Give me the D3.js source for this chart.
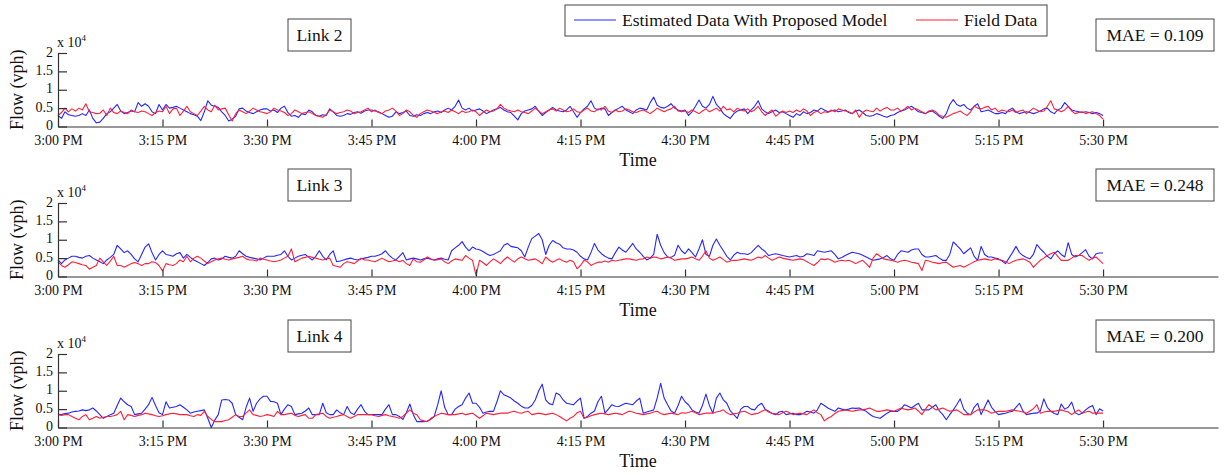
<!DOCTYPE html>
<html>
<head>
<meta charset="utf-8">
<script src="https://cdn.jsdelivr.net/npm/d3@7"></script>
<style>
  body { margin: 0; background: #fff; }
  svg text { font-family: "Liberation Serif", "Times New Roman", serif; fill: #111; }
</style>
</head>
<body>
<svg id="chart" width="1232" height="475"></svg>
<script>
// ---- data -------------------------------------------------------------
const linkNames = ["Link 2", "Link 3", "Link 4"];
const maeValues = [0.109, 0.248, 0.200];
const seriesNames = ["Estimated Data With Proposed Model", "Field Data"];
const timeTickLabels = ["3:00 PM", "3:15 PM", "3:30 PM", "3:45 PM", "4:00 PM", "4:15 PM",
                        "4:30 PM", "4:45 PM", "5:00 PM", "5:15 PM", "5:30 PM"];
const flowTickValues = [0, 0.5, 1, 1.5, 2];
const flowTickLabels = ["0", "0.5", "1", "1.5", "2"];
const sampleSeconds = 30;           // one reading every 30 s from 3:00 PM

// flows in units of 10^4 vph, one row per 15 minutes
const link2Estimated = [
  0.30,0.22,0.40,0.32,0.30,0.28,0.30,0.35,0.30,0.45,0.22,0.10,0.12,0.22,0.35,0.40,0.50,0.60,0.42,0.35,0.38,0.42,0.40,0.65,0.55,0.62,0.55,0.40,0.35,0.60,
  0.45,0.60,0.50,0.52,0.55,0.50,0.45,0.40,0.35,0.32,0.28,0.16,0.40,0.70,0.58,0.55,0.52,0.40,0.30,0.15,0.20,0.28,0.48,0.50,0.42,0.38,0.35,0.40,0.45,0.48,
  0.48,0.42,0.45,0.38,0.50,0.55,0.38,0.28,0.30,0.25,0.35,0.32,0.45,0.40,0.30,0.28,0.32,0.30,0.48,0.40,0.30,0.28,0.30,0.35,0.33,0.38,0.40,0.36,0.42,0.45,
  0.45,0.42,0.40,0.35,0.30,0.25,0.28,0.40,0.35,0.38,0.42,0.30,0.28,0.32,0.30,0.35,0.38,0.35,0.40,0.42,0.38,0.45,0.50,0.45,0.55,0.72,0.50,0.45,0.50,0.42,
  0.45,0.48,0.42,0.35,0.40,0.45,0.48,0.52,0.45,0.40,0.38,0.28,0.18,0.35,0.42,0.45,0.48,0.55,0.42,0.30,0.38,0.45,0.52,0.45,0.42,0.40,0.45,0.55,0.40,0.25,
  0.38,0.48,0.55,0.70,0.50,0.45,0.50,0.48,0.30,0.38,0.45,0.50,0.55,0.45,0.40,0.35,0.45,0.50,0.48,0.45,0.65,0.80,0.58,0.52,0.50,0.55,0.62,0.50,0.45,0.42,
  0.45,0.30,0.40,0.55,0.72,0.55,0.50,0.60,0.82,0.60,0.50,0.35,0.28,0.22,0.35,0.42,0.45,0.48,0.35,0.45,0.55,0.70,0.48,0.40,0.35,0.40,0.45,0.38,0.40,0.35,
  0.30,0.25,0.35,0.30,0.40,0.35,0.38,0.45,0.42,0.50,0.45,0.40,0.42,0.45,0.40,0.42,0.45,0.38,0.35,0.42,0.45,0.38,0.30,0.28,0.30,0.35,0.32,0.28,0.25,0.30,
  0.32,0.38,0.42,0.45,0.50,0.55,0.48,0.40,0.38,0.35,0.40,0.42,0.35,0.28,0.22,0.35,0.60,0.73,0.60,0.55,0.60,0.50,0.45,0.55,0.62,0.40,0.42,0.45,0.40,0.35,
  0.35,0.38,0.35,0.45,0.50,0.40,0.35,0.38,0.40,0.38,0.35,0.38,0.42,0.48,0.50,0.40,0.35,0.45,0.50,0.65,0.55,0.45,0.42,0.40,0.38,0.40,0.38,0.35,0.38,0.35,
  0.30
];
const link2Field = [
  0.30,0.38,0.50,0.40,0.48,0.42,0.50,0.45,0.62,0.40,0.38,0.35,0.36,0.45,0.30,0.50,0.38,0.35,0.42,0.38,0.35,0.45,0.40,0.38,0.42,0.40,0.35,0.30,0.38,0.42,
  0.40,0.55,0.35,0.48,0.50,0.30,0.42,0.55,0.40,0.35,0.30,0.42,0.55,0.45,0.40,0.58,0.45,0.48,0.50,0.32,0.15,0.35,0.45,0.40,0.35,0.42,0.50,0.45,0.40,0.38,
  0.35,0.40,0.50,0.45,0.42,0.38,0.30,0.35,0.45,0.40,0.35,0.38,0.40,0.35,0.30,0.28,0.25,0.32,0.45,0.40,0.35,0.38,0.40,0.45,0.42,0.35,0.38,0.40,0.45,0.50,
  0.40,0.45,0.38,0.35,0.42,0.45,0.50,0.42,0.30,0.35,0.45,0.40,0.30,0.25,0.35,0.40,0.45,0.42,0.38,0.35,0.40,0.42,0.38,0.45,0.40,0.35,0.42,0.38,0.40,0.45,
  0.40,0.30,0.38,0.45,0.40,0.42,0.48,0.60,0.50,0.45,0.42,0.40,0.45,0.40,0.38,0.35,0.42,0.50,0.42,0.35,0.40,0.45,0.48,0.42,0.50,0.45,0.40,0.42,0.48,0.40,
  0.38,0.45,0.50,0.42,0.40,0.48,0.45,0.55,0.42,0.38,0.45,0.40,0.42,0.48,0.45,0.40,0.38,0.42,0.45,0.40,0.35,0.42,0.50,0.45,0.40,0.45,0.48,0.55,0.42,0.40,
  0.42,0.38,0.45,0.40,0.35,0.42,0.48,0.40,0.45,0.50,0.42,0.55,0.45,0.48,0.40,0.50,0.45,0.42,0.48,0.40,0.45,0.55,0.40,0.30,0.38,0.45,0.28,0.35,0.42,0.38,
  0.42,0.38,0.45,0.40,0.48,0.42,0.30,0.38,0.42,0.35,0.40,0.38,0.45,0.40,0.48,0.45,0.42,0.40,0.35,0.45,0.25,0.38,0.45,0.42,0.40,0.50,0.42,0.48,0.52,0.45,
  0.45,0.50,0.42,0.48,0.55,0.45,0.50,0.45,0.40,0.35,0.42,0.45,0.40,0.30,0.28,0.25,0.30,0.35,0.38,0.42,0.35,0.30,0.40,0.55,0.50,0.48,0.52,0.55,0.45,0.50,
  0.40,0.45,0.42,0.40,0.45,0.38,0.42,0.45,0.35,0.42,0.50,0.45,0.40,0.42,0.55,0.70,0.48,0.45,0.40,0.45,0.55,0.42,0.35,0.38,0.40,0.35,0.38,0.40,0.35,0.30,
  0.20
];
const link3Estimated = [
  0.45,0.35,0.45,0.50,0.55,0.55,0.52,0.50,0.55,0.57,0.50,0.45,0.40,0.35,0.45,0.52,0.60,0.85,0.75,0.65,0.70,0.60,0.48,0.40,0.60,0.80,0.89,0.65,0.45,0.60,
  0.70,0.60,0.58,0.55,0.62,0.65,0.50,0.60,0.52,0.45,0.40,0.35,0.30,0.38,0.48,0.50,0.45,0.48,0.55,0.52,0.50,0.55,0.70,0.62,0.55,0.52,0.50,0.48,0.45,0.50,
  0.55,0.55,0.55,0.58,0.60,0.70,0.55,0.45,0.50,0.55,0.58,0.60,0.52,0.45,0.55,0.70,0.55,0.45,0.60,0.70,0.40,0.42,0.45,0.48,0.50,0.47,0.45,0.48,0.50,0.52,
  0.55,0.55,0.58,0.62,0.70,0.58,0.50,0.45,0.55,0.65,0.45,0.48,0.50,0.48,0.45,0.48,0.50,0.47,0.45,0.48,0.50,0.47,0.45,0.70,0.78,0.85,0.95,0.80,0.70,0.80,
  0.75,0.73,0.68,0.62,0.57,0.60,0.65,0.70,0.85,0.90,0.82,0.80,0.78,0.70,0.53,0.80,1.03,1.10,1.17,1.00,0.60,0.85,0.98,0.92,0.88,0.78,0.75,0.75,0.72,0.66,
  0.55,0.48,0.45,0.65,0.90,0.72,0.62,0.55,0.50,0.48,0.65,0.80,0.72,0.66,0.78,0.90,0.75,0.66,0.55,0.45,0.50,0.60,1.15,0.85,0.65,0.53,0.52,0.58,0.85,0.70,
  0.62,0.75,0.65,0.53,0.75,1.00,0.60,0.55,0.85,1.02,0.85,0.70,0.55,0.45,0.58,0.66,0.62,0.62,0.60,0.65,0.75,0.85,0.75,0.68,0.57,0.60,0.62,0.60,0.57,0.55,
  0.53,0.55,0.57,0.53,0.55,0.62,0.60,0.57,0.70,0.68,0.66,0.68,0.70,0.60,0.48,0.52,0.57,0.62,0.66,0.64,0.62,0.58,0.53,0.48,0.44,0.46,0.48,0.52,0.57,0.48,
  0.44,0.60,0.70,0.68,0.66,0.72,0.75,0.75,0.60,0.53,0.53,0.55,0.57,0.50,0.44,0.44,0.60,0.94,0.85,0.75,0.62,0.70,0.78,0.55,0.44,0.82,0.60,0.53,0.53,0.50,
  0.48,0.42,0.35,0.50,0.65,0.82,0.65,0.57,0.52,0.48,0.60,0.87,0.75,0.66,0.55,0.48,0.62,0.70,0.60,0.53,0.92,0.60,0.53,0.57,0.65,0.73,0.55,0.48,0.62,0.64,
  0.64
];
const link3Field = [
  0.40,0.30,0.25,0.32,0.40,0.38,0.35,0.32,0.30,0.20,0.25,0.30,0.50,0.40,0.30,0.42,0.55,0.30,0.30,0.25,0.30,0.35,0.38,0.35,0.30,0.35,0.35,0.40,0.38,0.30,
  0.15,0.35,0.32,0.30,0.35,0.45,0.40,0.55,0.40,0.50,0.55,0.50,0.42,0.35,0.40,0.45,0.48,0.50,0.47,0.45,0.48,0.50,0.52,0.55,0.48,0.45,0.45,0.42,0.50,0.47,
  0.45,0.42,0.40,0.42,0.45,0.50,0.55,0.75,0.40,0.45,0.50,0.52,0.55,0.52,0.50,0.47,0.45,0.48,0.50,0.30,0.28,0.25,0.35,0.40,0.38,0.35,0.42,0.50,0.45,0.45,
  0.42,0.40,0.45,0.50,0.45,0.40,0.42,0.45,0.40,0.44,0.35,0.30,0.48,0.40,0.39,0.45,0.53,0.48,0.44,0.46,0.48,0.40,0.35,0.42,0.48,0.46,0.44,0.57,0.50,0.44,
  0.03,0.44,0.38,0.30,0.40,0.48,0.42,0.35,0.45,0.53,0.46,0.39,0.48,0.53,0.48,0.44,0.46,0.48,0.42,0.35,0.53,0.45,0.39,0.44,0.48,0.42,0.39,0.44,0.40,0.21,
  0.30,0.44,0.40,0.30,0.35,0.39,0.39,0.42,0.39,0.44,0.42,0.44,0.46,0.48,0.48,0.46,0.44,0.47,0.48,0.53,0.50,0.53,0.52,0.48,0.50,0.53,0.50,0.44,0.46,0.48,
  0.48,0.50,0.53,0.48,0.44,0.55,0.70,0.50,0.44,0.48,0.53,0.46,0.39,0.42,0.44,0.44,0.46,0.48,0.46,0.44,0.48,0.53,0.50,0.57,0.50,0.44,0.48,0.53,0.50,0.48,
  0.46,0.44,0.46,0.48,0.46,0.40,0.35,0.30,0.38,0.48,0.46,0.48,0.44,0.39,0.42,0.44,0.42,0.44,0.40,0.35,0.40,0.44,0.35,0.25,0.50,0.62,0.55,0.48,0.46,0.44,
  0.42,0.39,0.42,0.44,0.42,0.39,0.37,0.35,0.16,0.44,0.42,0.39,0.37,0.35,0.38,0.39,0.32,0.25,0.28,0.30,0.25,0.30,0.35,0.40,0.44,0.46,0.48,0.46,0.44,0.48,
  0.46,0.44,0.40,0.35,0.40,0.44,0.46,0.48,0.44,0.39,0.25,0.35,0.44,0.50,0.57,0.62,0.66,0.55,0.44,0.44,0.44,0.50,0.57,0.57,0.57,0.50,0.44,0.50,0.53,0.44,
  0.35
];
const link4Estimated = [
  0.36,0.35,0.38,0.39,0.42,0.44,0.45,0.48,0.46,0.48,0.53,0.45,0.35,0.25,0.30,0.35,0.39,0.60,0.80,0.70,0.62,0.57,0.35,0.37,0.39,0.50,0.62,0.82,0.60,0.40,
  0.35,0.70,0.53,0.55,0.57,0.62,0.55,0.48,0.39,0.42,0.44,0.46,0.48,0.25,0.00,0.20,0.35,0.75,0.76,0.75,0.66,0.35,0.28,0.21,0.55,0.80,0.44,0.66,0.78,0.85,
  0.85,0.71,0.70,0.66,0.35,0.50,0.62,0.57,0.35,0.37,0.39,0.45,0.53,0.35,0.35,0.35,0.66,0.40,0.35,0.35,0.48,0.40,0.35,0.57,0.40,0.35,0.50,0.62,0.44,0.35,
  0.35,0.35,0.35,0.35,0.50,0.62,0.35,0.35,0.30,0.22,0.40,0.64,0.35,0.16,0.16,0.16,0.17,0.22,0.30,0.62,1.00,0.55,0.35,0.35,0.50,0.57,0.62,0.80,0.94,0.66,
  0.66,0.55,0.39,0.42,0.44,0.44,0.70,1.00,0.89,0.85,0.80,0.72,0.66,0.58,0.53,0.53,0.60,0.75,1.00,1.18,0.75,0.65,0.62,0.94,0.89,0.75,0.66,0.64,0.62,0.72,
  0.80,0.25,0.30,0.39,0.45,0.70,0.85,0.39,0.50,0.62,0.58,0.57,0.62,0.66,0.64,0.62,0.72,0.80,0.39,0.42,0.45,0.48,0.80,1.20,0.80,0.62,0.45,0.39,0.60,0.85,
  0.70,0.62,0.48,0.42,0.39,0.60,0.91,0.60,0.39,0.80,0.94,0.75,0.66,0.45,0.35,0.25,0.50,0.57,0.57,0.50,0.48,0.60,0.66,0.50,0.44,0.38,0.35,0.42,0.44,0.35,
  0.37,0.39,0.35,0.35,0.39,0.44,0.42,0.39,0.48,0.66,0.60,0.53,0.48,0.44,0.53,0.50,0.48,0.50,0.53,0.52,0.53,0.48,0.44,0.36,0.30,0.27,0.25,0.32,0.39,0.44,
  0.44,0.44,0.50,0.62,0.58,0.53,0.60,0.66,0.48,0.48,0.48,0.55,0.62,0.45,0.35,0.21,0.35,0.48,0.62,0.78,0.50,0.39,0.35,0.55,0.66,0.35,0.55,0.75,0.55,0.44,
  0.35,0.37,0.39,0.42,0.44,0.55,0.66,0.45,0.35,0.37,0.39,0.39,0.45,0.78,0.55,0.44,0.38,0.35,0.64,0.50,0.55,0.69,0.40,0.35,0.39,0.48,0.55,0.60,0.35,0.51,
  0.45
];
const link4Field = [
  0.35,0.33,0.35,0.35,0.30,0.25,0.21,0.30,0.35,0.21,0.25,0.30,0.25,0.28,0.30,0.30,0.32,0.35,0.44,0.21,0.35,0.33,0.30,0.33,0.35,0.39,0.37,0.35,0.32,0.30,
  0.32,0.35,0.37,0.39,0.37,0.35,0.35,0.35,0.32,0.30,0.35,0.33,0.44,0.30,0.22,0.16,0.16,0.16,0.19,0.21,0.28,0.35,0.30,0.30,0.40,0.48,0.35,0.33,0.30,0.32,
  0.35,0.33,0.30,0.44,0.35,0.35,0.37,0.39,0.33,0.30,0.33,0.35,0.25,0.25,0.35,0.37,0.39,0.30,0.25,0.28,0.30,0.33,0.35,0.30,0.25,0.30,0.35,0.35,0.35,0.35,
  0.35,0.32,0.30,0.33,0.35,0.32,0.30,0.28,0.25,0.30,0.39,0.48,0.39,0.35,0.21,0.18,0.16,0.25,0.30,0.35,0.39,0.37,0.35,0.35,0.35,0.37,0.39,0.35,0.37,0.39,
  0.32,0.25,0.32,0.39,0.37,0.35,0.37,0.39,0.39,0.39,0.42,0.44,0.41,0.39,0.42,0.44,0.35,0.37,0.39,0.37,0.35,0.37,0.39,0.35,0.30,0.24,0.18,0.25,0.30,0.40,
  0.44,0.25,0.28,0.32,0.35,0.37,0.39,0.37,0.35,0.37,0.39,0.37,0.35,0.40,0.44,0.42,0.39,0.37,0.35,0.37,0.39,0.42,0.44,0.38,0.35,0.37,0.39,0.37,0.35,0.40,
  0.39,0.41,0.44,0.40,0.35,0.37,0.39,0.39,0.39,0.42,0.44,0.48,0.40,0.35,0.37,0.39,0.42,0.44,0.40,0.35,0.37,0.39,0.44,0.48,0.42,0.39,0.37,0.35,0.40,0.44,
  0.40,0.35,0.37,0.39,0.37,0.35,0.42,0.48,0.40,0.35,0.18,0.25,0.30,0.38,0.44,0.46,0.48,0.46,0.44,0.46,0.48,0.48,0.50,0.53,0.48,0.44,0.44,0.46,0.48,0.46,
  0.44,0.48,0.53,0.50,0.48,0.50,0.53,0.45,0.35,0.50,0.62,0.55,0.48,0.50,0.53,0.48,0.44,0.46,0.48,0.42,0.35,0.35,0.35,0.42,0.48,0.48,0.48,0.44,0.39,0.42,
  0.44,0.44,0.44,0.46,0.48,0.46,0.44,0.42,0.39,0.45,0.51,0.62,0.39,0.42,0.44,0.44,0.44,0.46,0.48,0.45,0.42,0.35,0.42,0.48,0.39,0.42,0.44,0.39,0.39,0.39,
  0.39
];

const estimatedSeries = [link2Estimated, link3Estimated, link4Estimated];
const fieldSeries = [link2Field, link3Field, link4Field];

// ---- layout -----------------------------------------------------------
const plotLeft = 58, plotRight = 1218;
const panelTops = [53, 203, 354];
const plotHeight = 73.5;
const estimatedColor = "#2626ff";
const fieldColor = "#ff2038";
const axisColor = "#333";
const tickFont = 14;
const labelFont = 18;
const boxFont = 17.5;

const svg = d3.select("#chart");

const parseClock = d3.timeParse("%I:%M %p");
const tickTimes = timeTickLabels.map(parseClock);
const startTime = tickTimes[0];
const axisEnd = d3.timeSecond.offset(tickTimes[tickTimes.length - 1], 16.5 * 60);
const timeAt = i => d3.timeSecond.offset(startTime, i * sampleSeconds);

const x = d3.scaleTime().domain([startTime, axisEnd]).range([plotLeft, plotRight]);

function boxedLabel(g, x0, y0, w, h, label) {
  g.append("rect")
    .attr("x", x0).attr("y", y0).attr("width", w).attr("height", h)
    .attr("fill", "#fff").attr("stroke", "#444").attr("stroke-width", 1);
  g.append("text")
    .attr("x", x0 + w / 2).attr("y", y0 + h / 2)
    .attr("dy", "0.35em").attr("text-anchor", "middle")
    .style("font-size", boxFont + "px")
    .text(label);
}

linkNames.forEach((name, i) => {
  const top = panelTops[i];
  const bottom = top + plotHeight;
  const y = d3.scaleLinear().domain([0, 2]).range([bottom, top]);
  const g = svg.append("g");

  const line = d3.line()
    .x((d, j) => x(timeAt(j)))
    .y(d => y(d));

  g.append("path").datum(estimatedSeries[i])
    .attr("d", line).attr("fill", "none")
    .attr("stroke", estimatedColor).attr("stroke-width", 1.1)
    .attr("stroke-linejoin", "round");
  g.append("path").datum(fieldSeries[i])
    .attr("d", line).attr("fill", "none")
    .attr("stroke", fieldColor).attr("stroke-width", 1.1)
    .attr("stroke-linejoin", "round");

  // time axis with inward ticks
  const xAxis = d3.axisBottom(x)
    .tickValues(tickTimes)
    .tickFormat((d, k) => timeTickLabels[k])
    .tickSizeInner(-7).tickSizeOuter(0).tickPadding(9);
  const gx = g.append("g").attr("transform", `translate(0,${bottom})`).call(xAxis);

  // flow axis with inward ticks
  const yAxis = d3.axisLeft(y)
    .tickValues(flowTickValues)
    .tickFormat((d, k) => flowTickLabels[k])
    .tickSizeInner(-9).tickSizeOuter(0).tickPadding(5);
  const gy = g.append("g").attr("transform", `translate(${plotLeft},0)`).call(yAxis);

  [gx, gy].forEach(a => {
    a.attr("font-family", null).attr("font-size", null);
    a.selectAll("path, line").attr("stroke", axisColor).attr("stroke-width", 1.2);
    a.selectAll("text").style("font-size", tickFont + "px").attr("fill", "#111");
  });
  gy.selectAll("text").attr("dy", "0.22em");

  // exponent marker above the flow axis
  const exp = g.append("text").attr("x", plotLeft - 1).attr("y", top - 6)
    .style("font-size", "14px");
  exp.append("tspan").text("x 10");
  exp.append("tspan").attr("dy", -6).style("font-size", "9px").text("4");

  g.append("text")
    .attr("transform", `translate(23,${(top + bottom) / 2}) rotate(-90)`)
    .attr("text-anchor", "middle")
    .style("font-size", labelFont + "px")
    .text("Flow (vph)");

  g.append("text")
    .attr("x", (plotLeft + plotRight) / 2).attr("y", bottom + 39)
    .attr("text-anchor", "middle")
    .style("font-size", labelFont + "px")
    .text("Time");

  boxedLabel(g, 288, top - 34, 63, 32, name);
  boxedLabel(g, 1096, top - 34, 118, 32, "MAE = " + d3.format(".3f")(maeValues[i]));
});

// legend
const legend = svg.append("g");
legend.append("rect")
  .attr("x", 565).attr("y", 5).attr("width", 482).attr("height", 31)
  .attr("fill", "#fff").attr("stroke", "#444").attr("stroke-width", 1);
const legendItems = [
  { name: seriesNames[0], color: estimatedColor, x0: 574 },
  { name: seriesNames[1], color: fieldColor, x0: 916 }
];
legendItems.forEach(item => {
  legend.append("line")
    .attr("x1", item.x0).attr("x2", item.x0 + 42)
    .attr("y1", 20).attr("y2", 20)
    .attr("stroke", item.color).attr("stroke-width", 1.1);
  legend.append("text")
    .attr("x", item.x0 + 48).attr("y", 20).attr("dy", "0.35em")
    .style("font-size", boxFont + "px")
    .text(item.name);
});
</script>
</body>
</html>
